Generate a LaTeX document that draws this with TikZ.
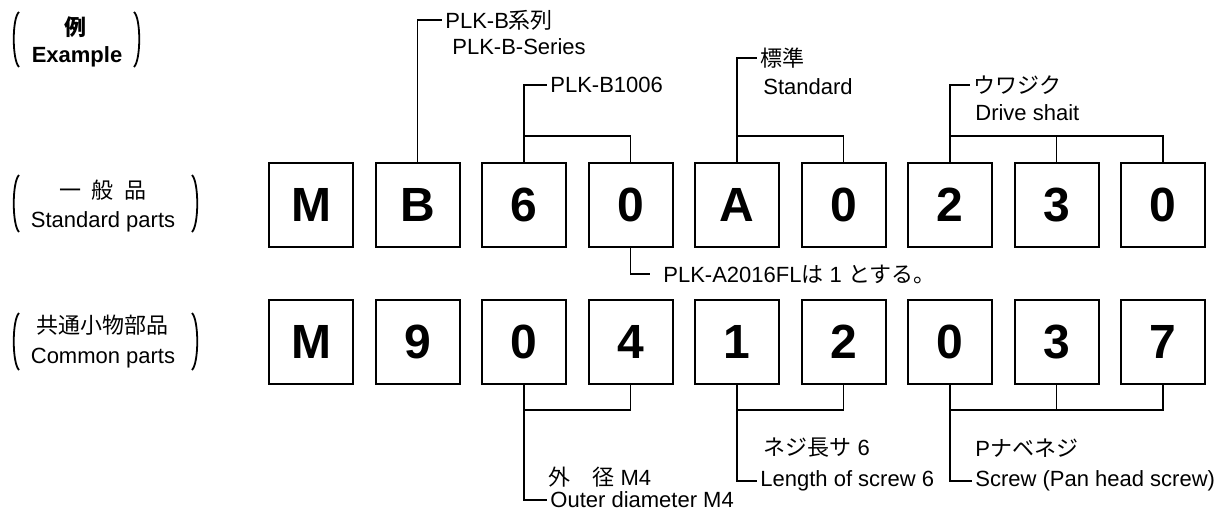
\documentclass[tikz,border=0pt]{standalone}
\usepackage{fontspec}
\setmainfont{Liberation Sans}
\newfontfamily\cjk{Noto Sans CJK JP}
\usepackage{tikz}
\usetikzlibrary{positioning}

\tikzset{
  digitbox/.style={draw, line width=1pt, minimum width=42pt, minimum height=42pt,
    inner sep=0pt, font=\fontsize{24}{24}\selectfont\bfseries},
  conn/.style={line width=0.8pt},
  paren/.style={line width=0.9pt},
  lbl/.style={anchor=west, inner sep=1.5pt, font=\fontsize{11}{13}\selectfont},
  side/.style={inner sep=1pt, font=\fontsize{11}{13}\selectfont}
}

\begin{document}
\begin{tikzpicture}[x=0.5pt,y=-0.5pt]
        \useasboundingbox (0,0) rectangle (1228,514);

        % left captions with brackets
        \node[side] (ex1) at (75,27) {\cjk\bfseries 例};
        \node[side] (ex2) at (77,57) {\bfseries Example};
        \draw[paren] (19,12) .. controls (12,18) and (12,60) .. (19,67);
        \draw[paren] (134,12) .. controls (141,18) and (141,60) .. (134,67);

        \node[side] (std1) at (103,190) {\cjk 一\hspace{0.5em}般\hspace{0.5em}品};
        \node[side] (std2) at (103,222) {Standard parts};
        \draw[paren] (19,175) .. controls (12,182) and (12,225) .. (19,232);
        \draw[paren] (192,175) .. controls (199,182) and (199,225) .. (192,232);

        \node[side] (com1) at (103,325) {\cjk 共通小物部品};
        \node[side] (com2) at (103,358) {Common parts};
        \draw[paren] (19,313) .. controls (12,320) and (12,363) .. (19,370);
        \draw[paren] (192,313) .. controls (199,320) and (199,363) .. (192,370);

        % code boxes
        \foreach \c [count=\i] in {M,B,6,0,A,0,2,3,0}
            \node[digitbox] (s\i) at ({311+106.5*(\i-1)},205) {\c};
        \foreach \c [count=\i] in {M,9,0,4,1,2,0,3,7}
            \node[digitbox] (c\i) at ({311+106.5*(\i-1)},342) {\c};

        % labels above the standard parts
        \node[lbl] (ser) at (442,20) {PLK-B{\cjk 系列}};
        \node[lbl] at (449,47) {PLK-B-Series};
        \node[lbl] (b1006) at (547,85) {PLK-B1006};
        \node[lbl] (hyo) at (757,58) {\cjk 標準};
        \node[lbl] at (760,87) {Standard};
        \node[lbl] (shaft) at (970,85) {\cjk ウワジク};
        \node[lbl] at (972,113) {Drive shait};

        \draw[conn] (s2.north) |- (ser.west);
        \draw[conn] (s3.north) -- ++(0,-26) -| (s4.north);
        \draw[conn] (s3.north) |- (b1006.west);
        \draw[conn] (s5.north) -- ++(0,-26) -| (s6.north);
        \draw[conn] (s5.north) |- (hyo.west);
        \draw[conn] (s7.north) -- ++(0,-26) -| (s9.north);
        \draw[conn] (s8.north) -- ++(0,-26);
        \draw[conn] (s7.north) |- (shaft.west);

        % note between the rows
        \node[lbl] (note) at (660,274) {PLK-A2016FL{\cjk は} 1 {\cjk とする。}};
        \draw[conn] (s4.south) |- ([xshift=-5pt]note.west);

        % labels below the common parts
        \node[lbl] at (545,477) {{\cjk 外　径} M4};
        \node[lbl] (dia) at (547,500) {Outer diameter M4};
        \node[lbl] at (760,448) {{\cjk ネジ長サ} 6};
        \node[lbl] (len) at (757,481) {Length of screw 6};
        \node[lbl] at (972,448) {P{\cjk ナベネジ}};
        \node[lbl] (scr) at (972,481) {Screw (Pan head screw)};

        \draw[conn] (c3.south) -- ++(0,25) -| (c4.south);
        \draw[conn] (c3.south) |- (dia.west);
        \draw[conn] (c5.south) -- ++(0,25) -| (c6.south);
        \draw[conn] (c5.south) |- (len.west);
        \draw[conn] (c7.south) -- ++(0,25) -| (c9.south);
        \draw[conn] (c8.south) -- ++(0,25);
        \draw[conn] (c7.south) |- (scr.west);
    \end{tikzpicture}
\end{document}
